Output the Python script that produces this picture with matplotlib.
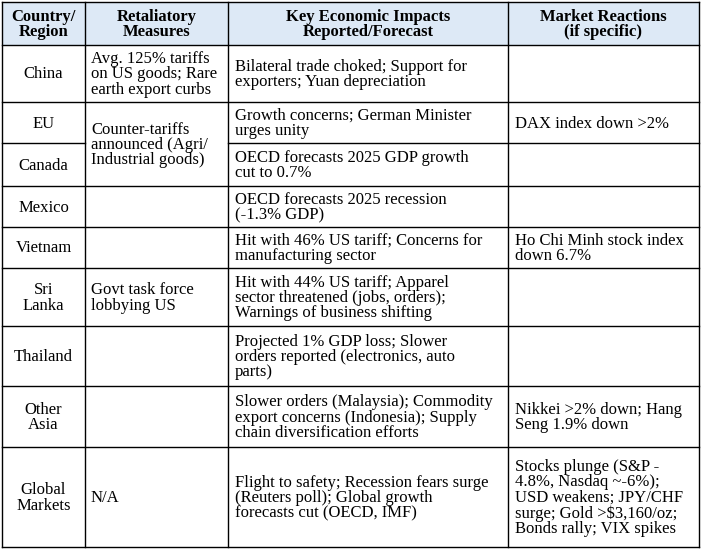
import matplotlib.pyplot as plt

plt.rcParams['font.family'] = ['Liberation Serif', 'DejaVu Serif']

W, H = 701, 549
col_x = [2, 85, 228, 508, 699]
row_y = [2, 45, 102, 143, 186, 227, 268, 326, 386, 447, 547]

headers = ["Country/\nRegion", "Retaliatory\nMeasures", "Key Economic Impacts\nReported/Forecast", "Market Reactions\n(if specific)"]
countries = ["China", "EU", "Canada", "Mexico", "Vietnam", "Sri\nLanka", "Thailand", "Other\nAsia", "Global\nMarkets"]
retaliation = ["Avg. 125% tariffs\non US goods; Rare\nearth export curbs",
               "Counter-tariffs\nannounced (Agri/\nIndustrial goods)",  # merged EU + Canada
               None, "", "",
               "Govt task force\nlobbying US", "", "", "N/A"]
impacts = ["Bilateral trade choked; Support for\nexporters; Yuan depreciation",
           "Growth concerns; German Minister\nurges unity",
           "OECD forecasts 2025 GDP growth\ncut to 0.7%",
           "OECD forecasts 2025 recession\n(-1.3% GDP)",
           "Hit with 46% US tariff; Concerns for\nmanufacturing sector",
           "Hit with 44% US tariff; Apparel\nsector threatened (jobs, orders);\nWarnings of business shifting",
           "Projected 1% GDP loss; Slower\norders reported (electronics, auto\nparts)",
           "Slower orders (Malaysia); Commodity\nexport concerns (Indonesia); Supply\nchain diversification efforts",
           "Flight to safety; Recession fears surge\n(Reuters poll); Global growth\nforecasts cut (OECD, IMF)"]
reactions = ["", "DAX index down >2%", "", "", "Ho Chi Minh stock index\ndown 6.7%", "", "",
             "Nikkei >2% down; Hang\nSeng 1.9% down",
             "Stocks plunge (S&P -\n4.8%, Nasdaq ~-6%);\nUSD weakens; JPY/CHF\nsurge; Gold >$3,160/oz;\nBonds rally; VIX spikes"]

fig = plt.figure(figsize=(W / 100, H / 100), dpi=100)
ax = fig.add_axes([0, 0, 1, 1])
ax.set_xlim(0, W)
ax.set_ylim(H, 0)
ax.axis('off')

fs = 12
ls = 0.95
lw = 1.0

# header
ax.add_patch(plt.Rectangle((col_x[0], row_y[0]), col_x[-1] - col_x[0], row_y[1] - row_y[0],
                           facecolor='#dde9f6', edgecolor='none'))
for i, h in enumerate(headers):
    ax.text((col_x[i] + col_x[i + 1]) / 2, (row_y[0] + row_y[1]) / 2 + 1, h, ha='center', va='center',
            fontsize=fs, fontweight='bold', linespacing=ls)

# outer + vertical lines
ax.plot([col_x[0], col_x[-1]], [row_y[0], row_y[0]], color='black', lw=lw)
ax.plot([col_x[0], col_x[-1]], [row_y[-1], row_y[-1]], color='black', lw=lw)
for x in col_x:
    ax.plot([x, x], [row_y[0], row_y[-1]], color='black', lw=lw)

# horizontal lines (skip retaliation column between EU and Canada)
for k in range(1, len(row_y) - 1):
    y = row_y[k]
    if k == 3:
        ax.plot([col_x[0], col_x[1]], [y, y], color='black', lw=lw)
        ax.plot([col_x[2], col_x[-1]], [y, y], color='black', lw=lw)
    else:
        ax.plot([col_x[0], col_x[-1]], [y, y], color='black', lw=lw)

for r in range(len(countries)):
    y0, y1 = row_y[r + 1], row_y[r + 2]
    yc = (y0 + y1) / 2 + 1
    ax.text((col_x[0] + col_x[1]) / 2, yc, countries[r], ha='center', va='center', fontsize=fs, linespacing=ls)
    if retaliation[r]:
        yr = yc
        if r == 1:
            yr = (row_y[2] + row_y[4]) / 2 + 1
        ax.text(col_x[1] + 6, yr, retaliation[r], ha='left', va='center', fontsize=fs, linespacing=ls)
    ax.text(col_x[2] + 7, yc, impacts[r], ha='left', va='center', fontsize=fs, linespacing=ls)
    if reactions[r]:
        ax.text(col_x[3] + 7, yc, reactions[r], ha='left', va='center', fontsize=fs, linespacing=ls)

fig.savefig('out.png', dpi=100)
